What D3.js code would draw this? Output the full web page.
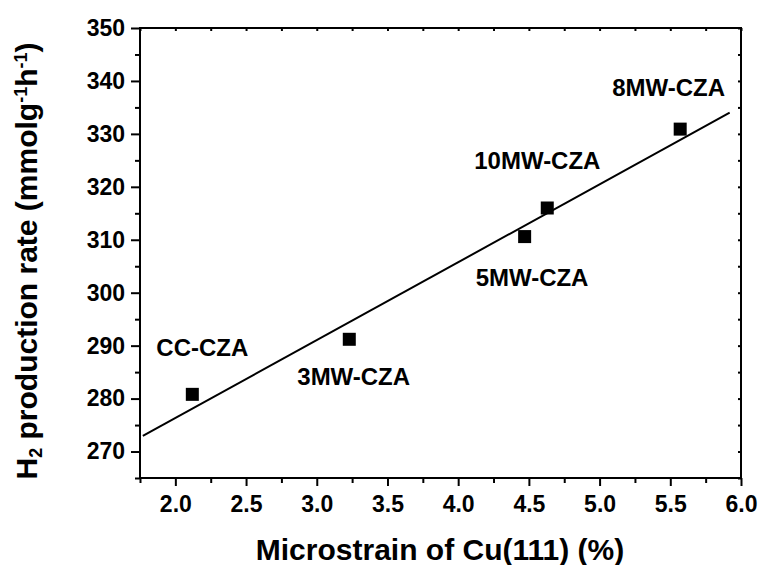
<!DOCTYPE html>
<html><head><meta charset="utf-8">
<script src="https://cdn.jsdelivr.net/npm/d3@7"></script>
<style>body{margin:0;background:#fff}svg{display:block}text{font-family:"Liberation Sans",Arial,sans-serif;font-weight:bold;fill:#000}</style>
</head><body>
<svg id="c" width="759" height="565"></svg>
<script>
const samples = ["CC-CZA","3MW-CZA","5MW-CZA","10MW-CZA","8MW-CZA"];
const microstrain = [2.12, 3.23, 4.47, 4.63, 5.57];
const h2Rate = [280.8, 291.2, 310.6, 316.0, 330.9];
const fitX = [1.77, 5.92];
const fitY = [272.95, 334.0];
const xTicks = [2.0, 2.5, 3.0, 3.5, 4.0, 4.5, 5.0, 5.5, 6.0];
const yTicks = [270, 280, 290, 300, 310, 320, 330, 340, 350];
// label anchor offsets (px) relative to each point
const labelDx = [-36, -52, -49, -73, -68];
const labelDy = [-38, 46, 49, -39, -33];

const svg = d3.select("#c");
const L = 140, R = 741, T = 28, B = 478;
const x = d3.scaleLinear().domain([1.75, 6.0]).range([L, R]);
const y = d3.scaleLinear().domain([265, 350]).range([B, T]);

const xMinor = d3.range(1.75, 6.01, 0.25).filter(v => !xTicks.some(t => Math.abs(t - v) < 1e-6));
const yMinor = d3.range(265, 350.1, 5).filter(v => !yTicks.includes(v));

function styleAxis(g){ g.select(".domain").remove(); g.selectAll("line").attr("stroke","#000").attr("stroke-width",2); }

// bottom
svg.append("g").attr("transform",`translate(0,${B})`)
  .call(d3.axisBottom(x).tickValues(xTicks).tickFormat(d3.format(".1f")).tickSize(8).tickPadding(10))
  .call(styleAxis).call(g=>g.selectAll("text").style("font-size","23px").attr("fill","#000"));
svg.append("g").attr("transform",`translate(0,${B})`)
  .call(d3.axisBottom(x).tickValues(xMinor).tickFormat("").tickSize(5)).call(styleAxis);
// left
svg.append("g").attr("transform",`translate(${L},0)`)
  .call(d3.axisLeft(y).tickValues(yTicks).tickSize(9).tickPadding(6))
  .call(styleAxis).call(g=>g.selectAll("text").style("font-size","23px").attr("fill","#000"));
svg.append("g").attr("transform",`translate(${L},0)`)
  .call(d3.axisLeft(y).tickValues(yMinor).tickFormat("").tickSize(5)).call(styleAxis);
// top (inward)
svg.append("g").attr("transform",`translate(0,${T})`)
  .call(d3.axisBottom(x).tickValues(xTicks.concat(xMinor)).tickFormat("").tickSize(3)).call(styleAxis);
// right (inward)
svg.append("g").attr("transform",`translate(${R},0)`)
  .call(d3.axisLeft(y).tickValues(yTicks.concat(yMinor)).tickFormat("").tickSize(3)).call(styleAxis);

// frame
svg.append("rect").attr("x",L).attr("y",T).attr("width",R-L).attr("height",B-T)
  .attr("fill","none").attr("stroke","#000").attr("stroke-width",2);

// fit line
svg.append("line").attr("x1",x(fitX[0])).attr("y1",y(fitY[0])).attr("x2",x(fitX[1])).attr("y2",y(fitY[1]))
  .attr("stroke","#000").attr("stroke-width",2);

// points
const s = 13;
svg.selectAll("rect.pt").data(samples).enter().append("rect").attr("class","pt")
  .attr("x",(d,i)=>x(microstrain[i])-s/2).attr("y",(d,i)=>y(h2Rate[i])-s/2)
  .attr("width",s).attr("height",s).attr("fill","#000");

// labels
svg.selectAll("text.lab").data(samples).enter().append("text").attr("class","lab")
  .attr("x",(d,i)=>x(microstrain[i])+labelDx[i]).attr("y",(d,i)=>y(h2Rate[i])+labelDy[i])
  .style("font-size","24px").text(d=>d);

// axis titles
svg.append("text").attr("x",440).attr("y",560).attr("text-anchor","middle")
  .style("font-size","30px").text("Microstrain of Cu(111) (%)");

const yt = svg.append("text").attr("transform","translate(37,261) rotate(-90)").attr("text-anchor","middle")
  .style("font-size","30px");
yt.append("tspan").text("H");
yt.append("tspan").attr("baseline-shift","-30%").style("font-size","18px").text("2");
yt.append("tspan").text(" production rate (mmolg");
yt.append("tspan").attr("baseline-shift","super").style("font-size","18px").text("-1");
yt.append("tspan").text("h");
yt.append("tspan").attr("baseline-shift","super").style("font-size","18px").text("-1");
yt.append("tspan").text(")");
</script>
</body></html>
